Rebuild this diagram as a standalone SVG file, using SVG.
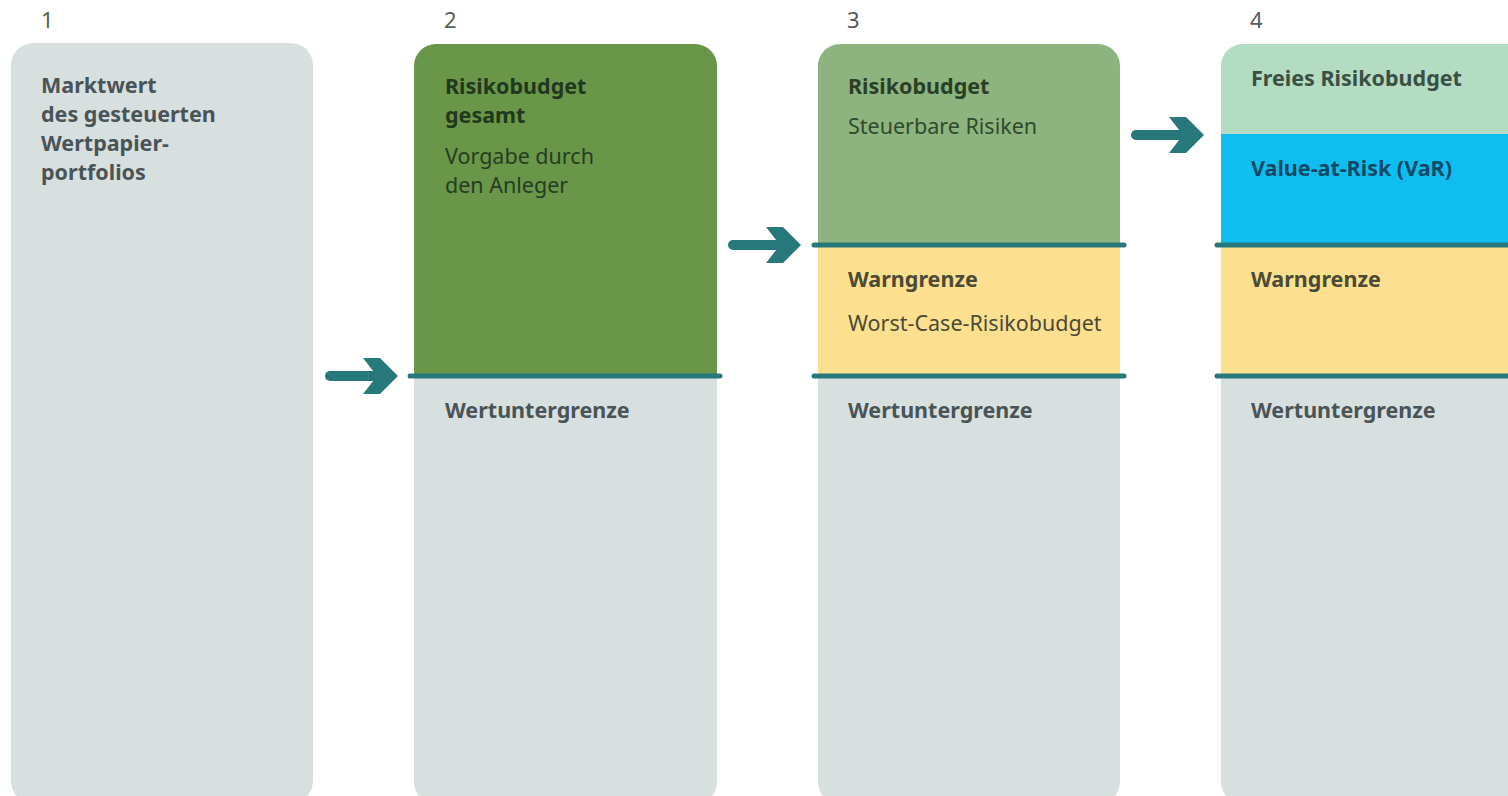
<svg xmlns="http://www.w3.org/2000/svg" width="1508" height="796" viewBox="0 0 1508 796">
<style>
text{font-family:"Noto Sans","Open Sans","Liberation Sans",sans-serif;font-size:21.5px}
.b{font-weight:bold}
.num{font-size:22px;fill:#555a5a}
.grey{fill:#d8dfdf}
.lim{stroke:#27787a;stroke-width:5;stroke-linecap:round;fill:none}
.shaft{stroke:#27787a;stroke-width:10;stroke-linecap:round}
.head{fill:#27787a}
.tg{fill:#4a5457}
.ty{fill:#4a4a35}
</style>
<defs>
<clipPath id="c2"><rect x="414" y="44" width="303" height="760" rx="22"/></clipPath>
<clipPath id="c3"><rect x="818" y="44" width="302" height="760" rx="22"/></clipPath>
<clipPath id="c4"><rect x="1221" y="44" width="330" height="760" rx="22"/></clipPath>
<g id="arrow">
<line class="shaft" x1="-68" y1="0" x2="-14" y2="0"/>
<polygon class="head" points="-35,-18 -18,-18 0,0 -18,18 -35,18 -21,0"/>
</g>
</defs>
<g id="labels">
<text class="num" x="41" y="28">1</text>
<text class="num" x="444" y="28">2</text>
<text class="num" x="847" y="28">3</text>
<text class="num" x="1250" y="28">4</text>
</g>
<g id="col1">
<rect class="grey" x="11" y="43" width="302" height="760" rx="22"/>
<text class="b tg" x="41" y="93">Marktwert</text>
<text class="b tg" x="41" y="122">des gesteuerten</text>
<text class="b tg" x="41" y="151">Wertpapier-</text>
<text class="b tg" x="41" y="180">portfolios</text>
</g>
<g id="col2">
<g clip-path="url(#c2)">
<rect class="grey" x="414" y="44" width="303" height="760"/>
<rect fill="#6a9649" x="414" y="44" width="303" height="332"/>
</g>
<text class="b" fill="#22381d" x="445" y="94">Risikobudget</text>
<text class="b" fill="#22381d" x="445" y="123">gesamt</text>
<text fill="#253d20" x="445" y="164">Vorgabe durch</text>
<text fill="#253d20" x="445" y="193">den Anleger</text>
<text class="b tg" x="445" y="418">Wertuntergrenze</text>
</g>
<g id="col3">
<g clip-path="url(#c3)">
<rect class="grey" x="818" y="44" width="302" height="760"/>
<rect fill="#fde08f" x="818" y="245" width="302" height="131"/>
<rect fill="#8db47f" x="818" y="44" width="302" height="201"/>
</g>
<text class="b" fill="#2a3f27" x="848" y="94">Risikobudget</text>
<text fill="#2f4a2c" x="848" y="134">Steuerbare Risiken</text>
<text class="b ty" x="848" y="287">Warngrenze</text>
<text class="ty" x="848" y="331">Worst-Case-Risikobudget</text>
<text class="b tg" x="848" y="418">Wertuntergrenze</text>
</g>
<g id="col4">
<g clip-path="url(#c4)">
<rect class="grey" x="1221" y="44" width="330" height="760"/>
<rect fill="#fde08f" x="1221" y="245" width="330" height="131"/>
<rect fill="#0fbef0" x="1221" y="134" width="330" height="111"/>
<rect fill="#b3dcc2" x="1221" y="44" width="330" height="90"/>
</g>
<text class="b" fill="#3a5045" x="1251" y="86">Freies Risikobudget</text>
<text class="b" fill="#0e4a63" x="1251" y="176">Value-at-Risk (VaR)</text>
<text class="b ty" x="1251" y="287">Warngrenze</text>
<text class="b tg" x="1251" y="418">Wertuntergrenze</text>
</g>
<g id="connectors">
<line class="lim" x1="410" y1="376" x2="720" y2="376"/>
<line class="lim" x1="814" y1="245" x2="1124" y2="245"/>
<line class="lim" x1="814" y1="376" x2="1124" y2="376"/>
<line class="lim" x1="1217" y1="245" x2="1512" y2="245"/>
<line class="lim" x1="1217" y1="376" x2="1512" y2="376"/>
<use href="#arrow" x="398" y="376"/>
<use href="#arrow" x="801" y="245"/>
<use href="#arrow" x="1204" y="135"/>
</g>
</svg>
